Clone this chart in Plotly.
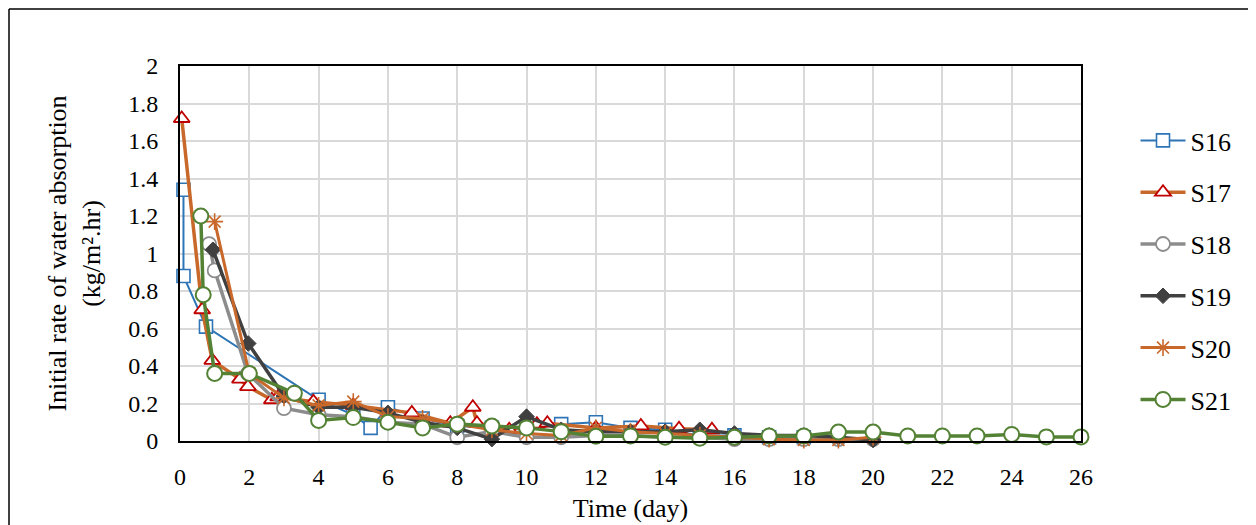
import plotly.graph_objects as go

# ---- data ----
s16_x = [0.1, 0.1, 0.75, 4, 5, 5.5, 6, 7, 8, 9, 10, 11, 12, 13, 14, 15, 16, 17, 18]
s16_y = [1.34, 0.88, 0.61, 0.22, 0.14, 0.07, 0.18, 0.12, 0.08, 0.07, 0.06, 0.09, 0.10, 0.07, 0.06, 0.03, 0.03, 0.02, 0.02]

s17_x = [0.05, 0.64, 0.93, 1.73, 1.96, 2.65, 2.83, 3.85, 5.0, 6.69, 7.8, 8.45, 8.57, 9.5, 10.3, 10.6, 12.0, 13.3, 14.4, 15.35]
s17_y = [1.72, 0.70, 0.43, 0.33, 0.29, 0.22, 0.235, 0.21, 0.19, 0.15, 0.095, 0.18, 0.095, 0.06, 0.09, 0.095, 0.07, 0.08, 0.065, 0.06]

s18_x = [0.84, 1.0, 1.96, 3.0, 4, 5, 6, 7, 8, 9, 10, 11, 12, 13, 14, 15, 16, 17, 18, 19, 20]
s18_y = [1.05, 0.91, 0.36, 0.175, 0.14, 0.13, 0.10, 0.09, 0.02, 0.05, 0.02, 0.02, 0.03, 0.03, 0.02, 0.02, 0.01, 0.01, 0.01, 0.01, 0.01]

s19_x = [0.95, 1.97, 3, 4, 5, 6, 7, 8, 9, 10, 11, 12, 13, 14, 15, 16, 17, 18, 19, 20]
s19_y = [1.02, 0.52, 0.24, 0.18, 0.18, 0.15, 0.10, 0.07, 0.01, 0.13, 0.06, 0.05, 0.05, 0.05, 0.06, 0.04, 0.03, 0.03, 0.02, 0.005]

s20_x = [1.0, 2.0, 3.0, 4, 5, 6, 7, 8, 9, 10, 11, 12, 13, 14, 15, 16, 17, 18, 19, 20]
s20_y = [1.17, 0.36, 0.23, 0.19, 0.21, 0.13, 0.12, 0.09, 0.06, 0.04, 0.03, 0.07, 0.05, 0.04, 0.03, 0.02, 0.01, 0.005, 0.005, 0.02]

s21_x = [0.6, 0.67, 1, 2, 3.3, 4, 5, 6, 7, 8, 9, 10, 11, 12, 13, 14, 15, 16, 17, 18, 19, 20, 21, 22, 23, 24, 25, 26]
s21_y = [1.2, 0.78, 0.36, 0.36, 0.255, 0.11, 0.125, 0.10, 0.07, 0.09, 0.08, 0.07, 0.05, 0.025, 0.027, 0.02, 0.015, 0.02,
         0.027, 0.027, 0.048, 0.048, 0.027, 0.027, 0.027, 0.035, 0.022, 0.022]

x_ticks = list(range(0, 27, 2))
y_ticks = [0, 0.2, 0.4, 0.6, 0.8, 1, 1.2, 1.4, 1.6, 1.8, 2]

FONT = "Liberation Serif"
ORANGE = "#c8682a"

fig = go.Figure()

def add(name, xs, ys, lcolor, lw, symbol, mcolor, mfill, msize, mlw):
    fig.add_trace(go.Scatter(
        x=xs, y=ys, name=name, mode="lines+markers", legendgroup=name, cliponaxis=False,
        line=dict(color=lcolor, width=lw),
        marker=dict(symbol=symbol, size=msize, color=mfill,
                    line=dict(color=mcolor, width=mlw)),
    ))

add("S16", s16_x, s16_y, "#2e75b6", 2, "square", "#2e75b6", "white", 13, 1.6)
add("S17", s17_x, s17_y, ORANGE, 3.5, "triangle-up", "#c00000", "white", 14, 1.8)
add("S18", s18_x, s18_y, "#8c8c8c", 3.5, "circle", "#8c8c8c", "white", 14, 1.8)
add("S19", s19_x, s19_y, "#404040", 3.5, "diamond", "#404040", "#404040", 12, 1)
add("S20", s20_x, s20_y, ORANGE, 3.0, "asterisk-open", ORANGE, ORANGE, 14, 1.6)
add("S21", s21_x, s21_y, "#548235", 3.5, "circle", "#548235", "white", 15, 2)

# page body has an 8px margin: figure is 1248x517 so the plot area lands where the reference has it
fig.update_layout(
    width=1248, height=517,
    margin=dict(l=172, r=175, t=58, b=84),
    paper_bgcolor="white", plot_bgcolor="white",
    font=dict(family=FONT, size=24, color="black"),
    legend=dict(x=1.0605, y=0.864, xanchor="left", yanchor="top",
                tracegroupgap=15, itemwidth=45, font=dict(size=26, family=FONT),
                bgcolor="rgba(0,0,0,0)"),
    xaxis=dict(range=[0, 26], tickvals=x_ticks, showgrid=True, gridcolor="#d9d9d9", gridwidth=2,
               showline=True, linecolor="black", linewidth=2, mirror=True, zeroline=False,
               ticks="", tickfont=dict(size=24), ticklabelstandoff=13, automargin=False,
               title=dict(text="Time (day)", font=dict(size=26), standoff=10)),
    yaxis=dict(range=[0, 2], tickvals=y_ticks, showgrid=True, gridcolor="#d9d9d9", gridwidth=2,
               showline=True, linecolor="black", linewidth=2, mirror=True, zeroline=False,
               ticks="", tickfont=dict(size=24), ticklabelstandoff=15, automargin=False,
               title=dict(text="Initial rate of water absorption<br>(kg/m².hr)", font=dict(size=26), standoff=20)),
)

# outer chart border (top and left edges visible in the reference)
fig.add_shape(type="line", xref="paper", yref="paper",
              x0=(9 - 180) / 901, x1=(1256 - 180) / 901, y0=(441 - 9) / 375, y1=(441 - 9) / 375,
              line=dict(color="black", width=1.5))
fig.add_shape(type="line", xref="paper", yref="paper",
              x0=(9 - 180) / 901, x1=(9 - 180) / 901, y0=(441 - 9) / 375, y1=(441 - 530) / 375,
              line=dict(color="black", width=1.5))

fig.write_html("out.html")
